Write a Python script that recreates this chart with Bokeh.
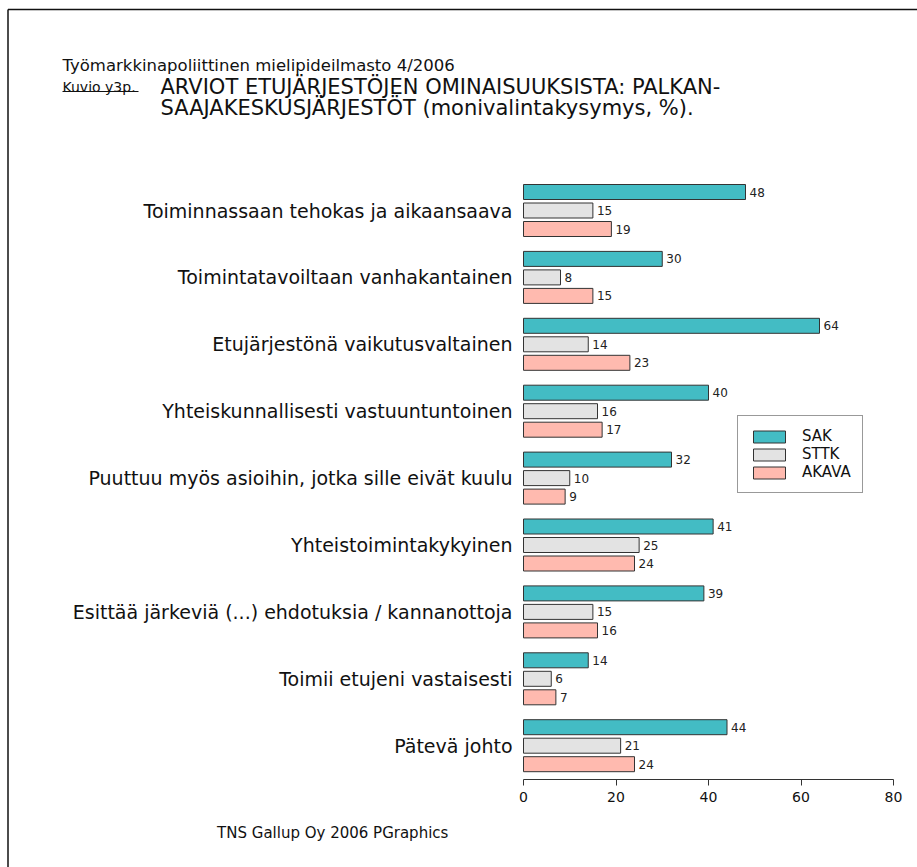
from bokeh.plotting import figure
from bokeh.models import Range1d, FixedTicker, Label, Legend, LegendItem, ColumnDataSource
from bokeh.transform import dodge
from bokeh.core.properties import value
from bokeh.embed import file_html
from bokeh.resources import INLINE

categories = [
    "Toiminnassaan tehokas ja aikaansaava",
    "Toimintatavoiltaan vanhakantainen",
    "Etujärjestönä vaikutusvaltainen",
    "Yhteiskunnallisesti vastuuntuntoinen",
    "Puuttuu myös asioihin, jotka sille eivät kuulu",
    "Yhteistoimintakykyinen",
    "Esittää järkeviä (...) ehdotuksia / kannanottoja",
    "Toimii etujeni vastaisesti",
    "Pätevä johto",
]
sak = [48, 30, 64, 40, 32, 41, 39, 14, 44]
sttk = [15, 8, 14, 16, 10, 25, 15, 6, 21]
akava = [19, 15, 23, 17, 9, 24, 16, 7, 24]
series_names = ["SAK", "STTK", "AKAVA"]
series_colors = ["#43BCC4", "#E3E3E3", "#FFBAAF"]
x_ticks = [0, 20, 40, 60, 80]
x_min, x_max = 0, 80

header_text = "Työmarkkinapoliittinen mielipideilmasto 4/2006"
figure_no = "Kuvio y3p."
title_line1 = "ARVIOT ETUJÄRJESTÖJEN OMINAISUUKSISTA: PALKAN-"
title_line2 = "SAAJAKESKUSJÄRJESTÖT (monivalintakysymys, %)."
footer_text = "TNS Gallup Oy  2006  PGraphics"

FONT = "DejaVu Sans"
TXT = "#111111"

# ---- layout constants (pixels) ----
W, H = 917, 867
AXIS_PX = 779         # canvas y of the value axis line
ZERO_PX = 523         # canvas x of value 0
PX_PER_UNIT = 4.625   # horizontal scale
ROW0_PX = 210         # canvas y of first category centre
ROW_PX = 66.9         # pixels between categories

def px_x(px):
    return (px - ZERO_PX) / PX_PER_UNIT

def px_y(py):
    return (py - ROW0_PX) / ROW_PX

pos = list(range(len(categories)))
data = dict(y=pos, cat=categories, zero=[0] * len(pos))
for name, vals in zip(series_names, [sak, sttk, akava]):
    data[name] = vals
    data[name + "_t"] = [str(v) for v in vals]
src = ColumnDataSource(data)

p = figure(width=W, height=H, min_border=0,
           x_range=Range1d(px_x(0), px_x(W)),
           y_range=Range1d(px_y(H), px_y(0)),
           y_axis_location=None,
           output_backend="svg", toolbar_location=None,
           background_fill_color="white", border_fill_color="white")
p.outline_line_color = None
p.xgrid.visible = False
p.ygrid.visible = False

offsets = [-18.5 / ROW_PX, 0.0, 18.5 / ROW_PX]
bar_h = 15 / ROW_PX
renderers = []
for name, col, off in zip(series_names, series_colors, offsets):
    r = p.hbar(y=dodge("y", off), left=0, right=name,
               height=bar_h, source=src, fill_color=col,
               line_color="#333333", line_width=1)
    renderers.append(r)
    p.text(x=name, y=dodge("y", off), text=name + "_t",
           source=src, x_offset=4, text_baseline="middle", text_align="left",
           text_font=value(FONT), text_font_size="12px", text_color="#222222")

# category labels, right-aligned next to the value axis origin
p.text(x="zero", y="y", text="cat", source=src, x_offset=-11,
       text_align="right", text_baseline="middle",
       text_font=value(FONT), text_font_size="19px", text_color=TXT)

# x axis drawn at a fixed location inside the frame
xa = p.xaxis[0]
xa.fixed_location = px_y(AXIS_PX)
xa.ticker = FixedTicker(ticks=x_ticks)
xa.bounds = (x_min, x_max)
xa.axis_line_color = "#333333"
xa.major_tick_line_color = "#333333"
xa.major_tick_out = 6
xa.major_tick_in = 0
xa.minor_tick_line_color = None
xa.major_label_standoff = 6
xa.major_label_text_font = FONT
xa.major_label_text_font_size = "14px"
xa.major_label_text_color = TXT

# legend
legend = Legend(items=[LegendItem(label=n, renderers=[r]) for n, r in zip(series_names, renderers)],
                location=(737, H - 493), padding=11, spacing=0, margin=0,
                glyph_width=40, glyph_height=15, label_height=15, label_standoff=13,
                label_text_font=FONT, label_text_font_size="15px",
                label_text_color=TXT,
                border_line_color="#333333", border_line_width=1,
                background_fill_color="white")
p.add_layout(legend, "center")

# heading and footer texts
def add_label(text, px, py, size, align="left"):
    p.add_layout(Label(x=px_x(px), y=px_y(py), text=text,
                       text_font=FONT, text_font_size=size, text_color=TXT,
                       text_align=align, text_baseline="alphabetic"))

add_label(header_text, 62, 65, "16.5px")
add_label(figure_no, 62, 86, "14px")
add_label(title_line1, 160, 86, "21px")
add_label(title_line2, 160, 107, "21px")
add_label(footer_text, 337, 832, "15px", align="center")

# underline of the figure number
p.segment(x0=px_x(62), y0=px_y(91), x1=px_x(138), y1=px_y(91),
          line_color=TXT, line_width=1)
# outer frame (top and left edges)
p.segment(x0=px_x(7.5), y0=px_y(9), x1=px_x(W), y1=px_y(9),
          line_color=TXT, line_width=1.5)
p.segment(x0=px_x(7.5), y0=px_y(9), x1=px_x(7.5), y1=px_y(H),
          line_color=TXT, line_width=1.5)

open("out.html", "w").write(file_html(p, INLINE))
